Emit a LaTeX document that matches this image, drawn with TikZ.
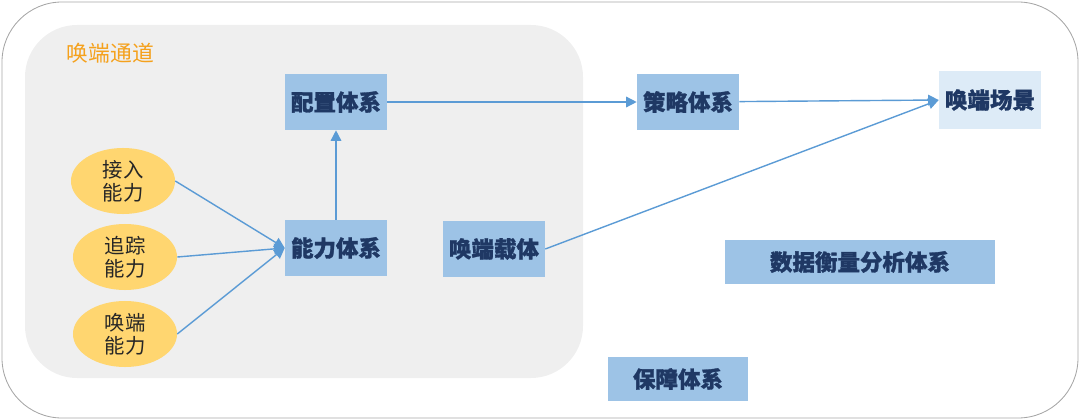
\documentclass[tikz,border=0pt]{standalone}
\usepackage{fontspec}
\setmainfont{Noto Sans CJK SC}[BoldFeatures={FakeBold=1.3}]
\usepackage{tikz}
\usetikzlibrary{shapes.geometric}
\usetikzlibrary{arrows.meta}
\usetikzlibrary{positioning}

\definecolor{boxblue}{HTML}{9DC3E6}
\definecolor{paleblue}{HTML}{DDEBF7}
\definecolor{navy}{HTML}{1F3864}
\definecolor{linkblue}{HTML}{5B9BD5}
\definecolor{gold}{HTML}{FFD670}
\definecolor{panelgray}{HTML}{EFEFEF}
\definecolor{framegray}{HTML}{A6A6A6}
\definecolor{labelorange}{HTML}{F5A11C}

\begin{document}
\begin{tikzpicture}[x=0.025cm, y=-0.025cm,
    sys box/.style={rectangle, fill=boxblue, text=navy, font=\fontsize{16}{18}\selectfont\bfseries,
      minimum width=2.55cm, minimum height=1.4cm, inner sep=2pt},
    ability/.style={ellipse, fill=gold, text=black!85, font=\fontsize{14.5}{16.5}\selectfont,
      minimum width=2.6cm, minimum height=1.65cm, inner sep=0pt, align=center},
    link/.style={draw=linkblue, line width=1pt, -{Triangle[length=7.5pt, width=7.5pt]}},
  ]

  \useasboundingbox (0,0) rectangle (1080,420);
  \draw[framegray, line width=0.6pt, rounded corners=1.5cm] (2,2) rectangle (1078,418);
  \fill[panelgray, rounded corners=1.3cm] (25,25) rectangle (583,378);

  \node[text=labelorange, font=\fontsize{15.5}{18}\selectfont, anchor=west] (channel) at (62,53) {唤端通道};

  \node[sys box] (config)   at (336,102) {配置体系};
  \node[sys box] (capsys)   at (336,248) {能力体系};
  \node[sys box] (carrier)  at (494,249) {唤端载体};
  \node[sys box] (strategy) at (688,102) {策略体系};
  \node[sys box, fill=paleblue, minimum height=1.43cm] (scene) at (990,100) {唤端场景};
  \node[sys box, minimum width=6.75cm, minimum height=1.08cm] (metrics) at (860,262) {数据衡量分析体系};
  \node[sys box, minimum width=3.48cm, minimum height=1.08cm] (guarantee) at (678,379) {保障体系};

  \node[ability] (access) at (123,181) {接入\\能力};
  \node[ability] (track)  at (125,257) {追踪\\能力};
  \node[ability] (wake)   at (125,334) {唤端\\能力};

  \draw[link] (config) -- (strategy);
  \draw[link] (strategy) -- (scene.west);
  \draw[link] (carrier.east) -- (scene.west);
  \draw[link] (capsys) -- (config);
  \draw[link] (access.east) -- (capsys.west);
  \draw[link] (track.east)  -- (capsys.west);
  \draw[link] (wake.east)   -- (capsys.west);

  \end{tikzpicture}
\end{document}
